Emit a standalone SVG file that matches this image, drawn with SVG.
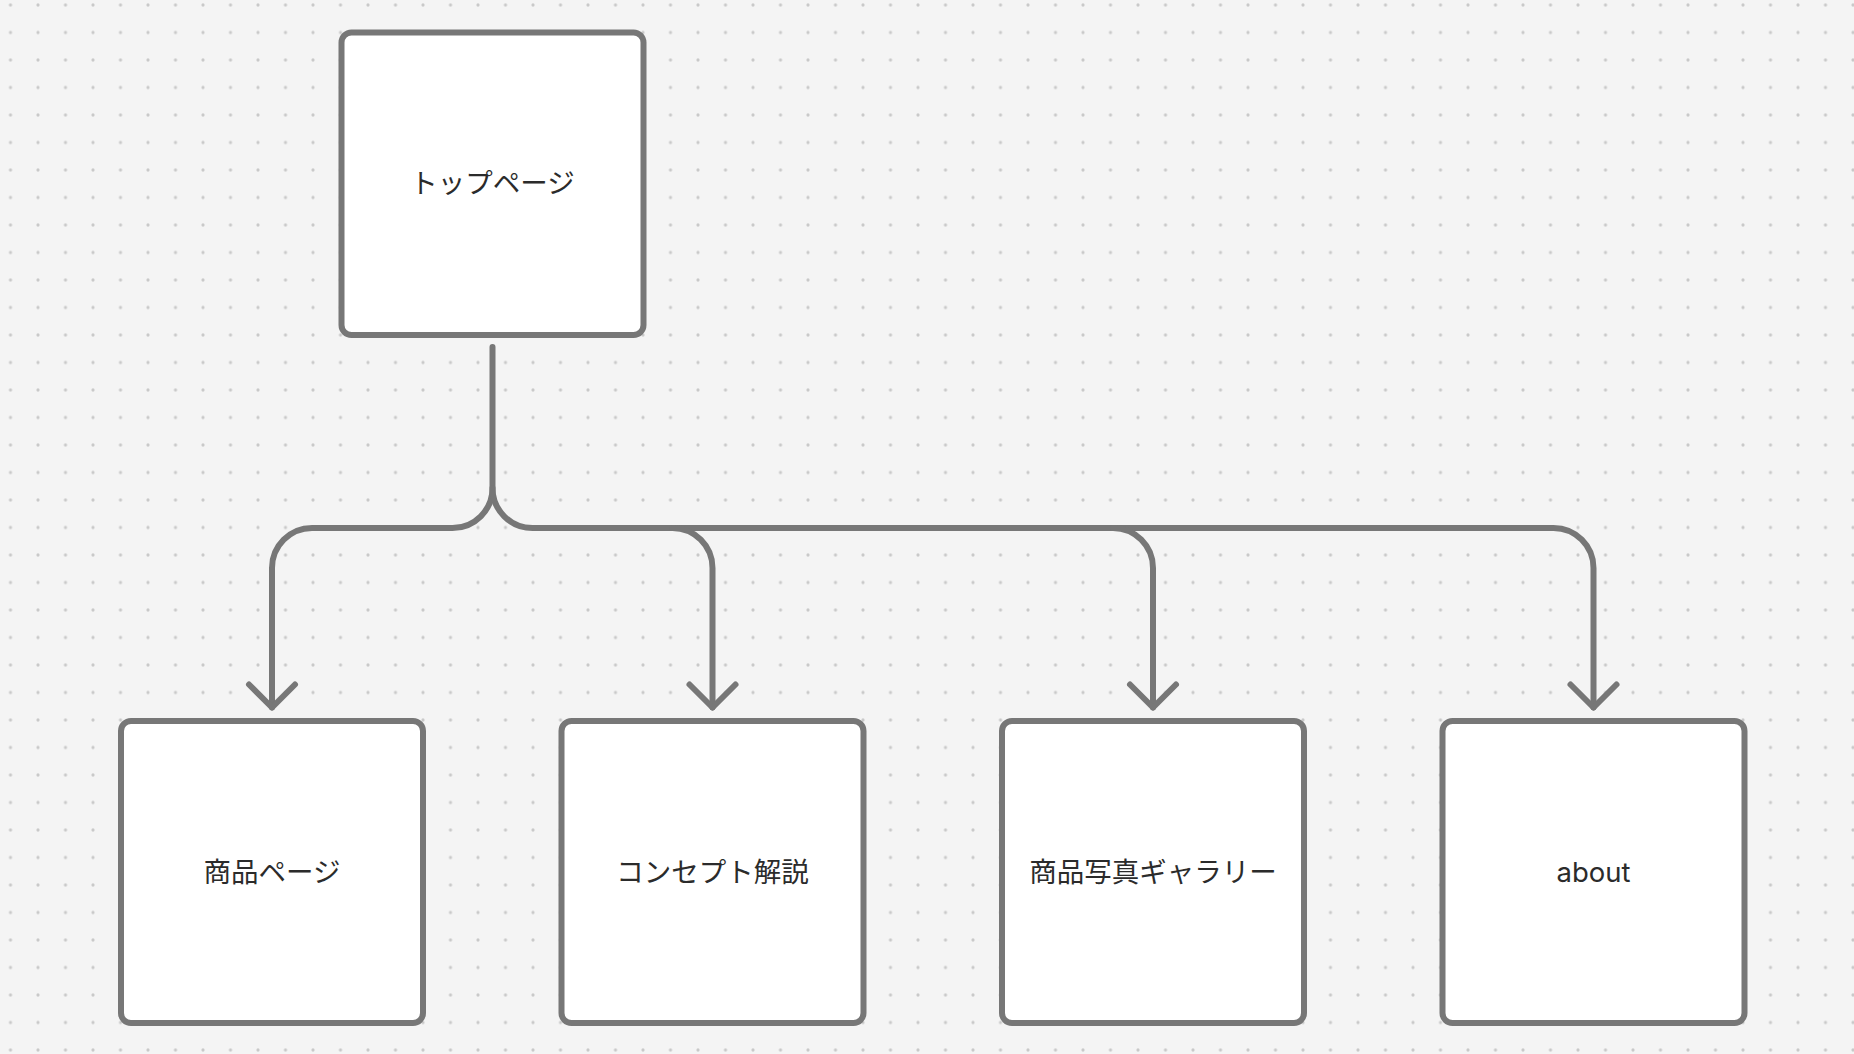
<svg xmlns="http://www.w3.org/2000/svg" width="1854" height="1054" viewBox="0 0 1854 1054">
  <defs>
    <pattern id="dots" x="-3.25" y="-8.75" width="27.5" height="27.5" patternUnits="userSpaceOnUse">
      <circle cx="13.75" cy="13.75" r="1.6" fill="#c9c9c9"/>
    </pattern>
    <marker id="arrow" markerUnits="userSpaceOnUse" markerWidth="60" markerHeight="60" refX="0" refY="0" orient="auto" overflow="visible">
      <path d="M-23,-23 L0,0 L-23,23" fill="none" stroke="#777777" stroke-width="6" stroke-linecap="round" stroke-linejoin="round"/>
    </marker>
  </defs>
  <style>
    .box { fill: #ffffff; stroke: #777777; stroke-width: 6; }
    .label { font-family: "Inter", "Noto Sans CJK JP", sans-serif; font-size: 27.5px; fill: #2b2b2b; text-anchor: middle; dominant-baseline: central; }
    .conn { fill: none; stroke: #777777; stroke-width: 6; stroke-linecap: round; stroke-linejoin: round; marker-end: url(#arrow); }
  </style>
  <rect width="1854" height="1054" fill="#f4f4f4"/>
  <rect width="1854" height="1054" fill="url(#dots)"/>

  <g id="connectors">
    <path class="conn" d="M492.5 347 V488 A40 40 0 0 1 452.5 528 H312 A40 40 0 0 0 272 568 V707.5"/>
    <path class="conn" d="M492.5 488 A40 40 0 0 0 532.5 528 H1553.5 A40 40 0 0 1 1593.5 568 V707.5"/>
    <path class="conn" d="M672.5 528 A40 40 0 0 1 712.5 568 V707.5"/>
    <path class="conn" d="M1113 528 A40 40 0 0 1 1153 568 V707.5"/>
  </g>

  <g id="node-top">
    <rect class="box" x="341.5" y="32.5" width="302" height="302.5" rx="10"/>
    <text class="label" x="492.5" y="182.5">トップページ</text>
  </g>
  <g id="node-products">
    <rect class="box" x="121" y="721" width="302" height="302" rx="10"/>
    <text class="label" x="272" y="871.5">商品ページ</text>
  </g>
  <g id="node-concept">
    <rect class="box" x="561.5" y="721" width="302" height="302" rx="10"/>
    <text class="label" x="712.5" y="871.5">コンセプト解説</text>
  </g>
  <g id="node-gallery">
    <rect class="box" x="1002" y="721" width="302" height="302" rx="10"/>
    <text class="label" x="1153" y="871.5">商品写真ギャラリー</text>
  </g>
  <g id="node-about">
    <rect class="box" x="1442.5" y="721" width="302" height="302" rx="10"/>
    <text class="label" x="1593.5" y="871.5">about</text>
  </g>
</svg>
